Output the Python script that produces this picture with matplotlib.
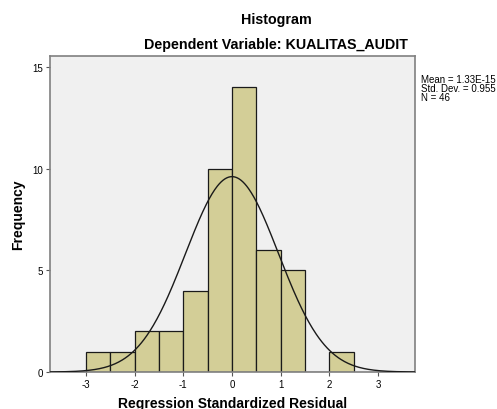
import numpy as np
import matplotlib.pyplot as plt

# histogram of regression standardized residuals (SPSS output)
bin_edges = [-3.0, -2.5, -2.0, -1.5, -1.0, -0.5, 0.0, 0.5, 1.0, 1.5, 2.0, 2.5]
counts = [1, 1, 2, 2, 4, 10, 14, 6, 5, 0, 1]
mean = 1.33e-15
std_dev = 0.955
n_obs = 46
x_ticks = [-3, -2, -1, 0, 1, 2, 3]
y_ticks = [0, 5, 10, 15]

plt.rcParams['font.family'] = ['Liberation Sans', 'DejaVu Sans']
plt.rcParams['axes.unicode_minus'] = False

W, H = 497, 410
fig = plt.figure(figsize=(W / 100, H / 100), dpi=100)
ax = fig.add_axes([50 / W, 1 - 373 / H, 365 / W, 316 / H])
ax.set_facecolor('#f0f0f0')

lefts = np.array(bin_edges[:-1])
widths = np.diff(bin_edges)
ax.bar(lefts, counts, width=widths, align='edge', color='#d3ce97',
       edgecolor='#1a1a1a', linewidth=0.9, zorder=2)

# fitted normal curve scaled to the counts
bw = widths[0]
xs = np.linspace(-3.74, 3.76, 400)
ys = n_obs * bw / (std_dev * np.sqrt(2 * np.pi)) * np.exp(-0.5 * ((xs - mean) / std_dev) ** 2)
ax.plot(xs, ys, color='#1a1a1a', lw=1.0, zorder=3)

ax.set_xlim(-3.74, 3.76)
ax.set_ylim(0, 15.54)
ax.set_xticks(x_ticks)
ax.set_yticks(y_ticks)
ax.tick_params(labelsize=7, length=3, width=0.8, color='#555555', pad=2)
for s in ax.spines.values():
    s.set_color('#808080')
    s.set_linewidth(1.2)

ax.set_xlabel('Regression Standardized Residual', fontsize=10, fontweight='bold', labelpad=5)
ax.set_ylabel('Frequency', fontsize=10, fontweight='bold', labelpad=5)

fig.text(276 / W, 1 - 20 / H, 'Histogram', ha='center', va='center',
         fontsize=10.3, fontweight='bold')
fig.text(276 / W, 1 - 45 / H, 'Dependent Variable: KUALITAS_AUDIT', ha='center',
         va='center', fontsize=10.3, fontweight='bold')
fig.text(421 / W, 1 - 75 / H,
         'Mean = 1.33E-15\nStd. Dev. = 0.955\nN = %d' % n_obs,
         ha='left', va='top', fontsize=7, linespacing=0.88)

fig.savefig('out.png', dpi=100)
